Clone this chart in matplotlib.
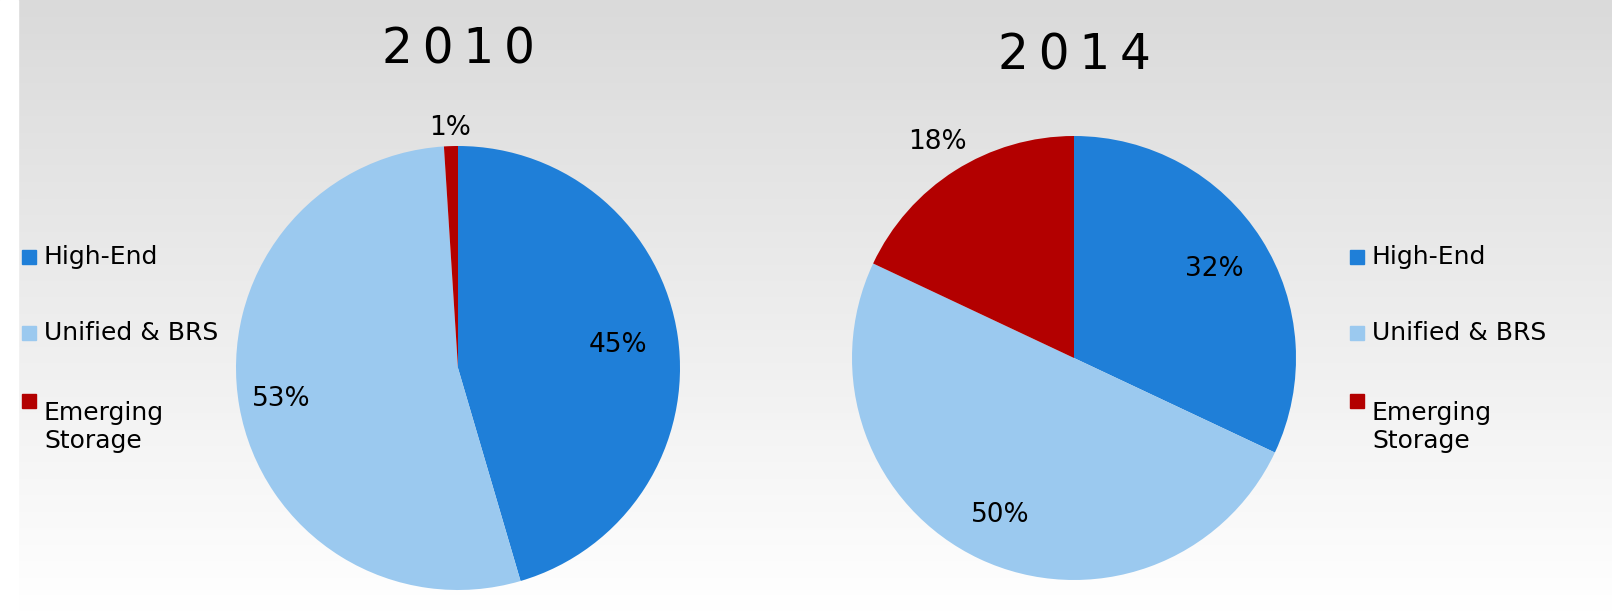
import numpy as np
import matplotlib
matplotlib.use("Agg")
import matplotlib.pyplot as plt

categories = ["High-End", "Unified & BRS", "Emerging\nStorage"]
values_2010 = [45, 53, 1]
values_2014 = [32, 50, 18]
years = ["2010", "2014"]
colors = ["#1f7fd8", "#9bc9ef", "#b30000"]
label_r_2010 = [0.73, 0.81, 1.08]
label_r_2014 = [0.75, 0.78, 1.15]

W, H = 1612, 612
fig = plt.figure(figsize=(W/100, H/100), dpi=100)
bg = fig.add_axes([0, 0, 1, 1], zorder=0)
grad = np.linspace(0.855, 1.0, 256)[:, None]
bg.imshow(np.dstack([grad]*3), aspect="auto", extent=[0, 1, 0, 1], origin="upper")
bg.axvspan(0, 18/W, color="white")
bg.set_xlim(0, 1); bg.set_ylim(0, 1); bg.axis("off")

def draw(cx, cy, r, vals, lr, year, title_y):
    ax = fig.add_axes([(cx-r)/W, 1-(cy+r)/H, 2*r/W, 2*r/H], zorder=1)
    wedges, _ = ax.pie(vals, colors=colors, startangle=90, counterclock=False,
                       wedgeprops=dict(linewidth=0))
    for w, v, rr in zip(wedges, vals, lr):
        a = np.deg2rad((w.theta1 + w.theta2) / 2)
        ax.text(rr*np.cos(a), rr*np.sin(a), f"{v}%", ha="center", va="center",
                fontsize=19, color="black")
    ax.set_xlim(-1, 1); ax.set_ylim(-1, 1); ax.set_aspect("auto")
    t = fig.text(cx/W, 1-title_y/H, "\u2009".join(year), ha="center", va="center",
                 fontsize=35)
    return ax

draw(458, 368, 222, values_2010, label_r_2010, years[0], 50)
draw(1074, 358, 222, values_2014, label_r_2014, years[1], 55)

def legend(x, ys):
    for c, lab, y in zip(colors, categories, ys):
        fig.patches.append(plt.Rectangle((x/W, 1-(y+7)/H), 14/W, 14/H,
                                         transform=fig.transFigure, color=c, figure=fig))
        fig.text((x+22)/W, 1-y/H, lab, ha="left", va="top" if "\n" in lab else "center",
                 fontsize=18, linespacing=1.2)

legend(22, [257, 333, 401])
legend(1350, [257, 333, 401])

fig.savefig("out.png", dpi=100)
